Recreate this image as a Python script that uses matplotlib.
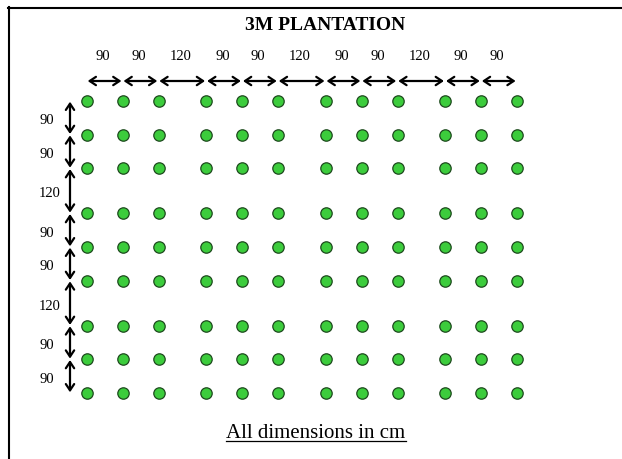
import numpy as np
import matplotlib
matplotlib.use("Agg")
import matplotlib.pyplot as plt
from matplotlib.patches import FancyArrowPatch
from matplotlib.lines import Line2D
import matplotlib.transforms as mtransforms

# spacing between plant columns / rows, in cm
col_gaps = [90, 90, 120, 90, 90, 120, 90, 90, 120, 90, 90]
row_gaps = [90, 90, 120, 90, 90, 120, 90, 90]
title = "3M PLANTATION"
note = "All dimensions in cm"

col_x = np.concatenate([[0], np.cumsum(col_gaps)])
row_y = np.concatenate([[0], np.cumsum(row_gaps)])

W, H = 622, 459
fig = plt.figure(figsize=(W / 100, H / 100), dpi=100)
ax = fig.add_axes([0, 0, 1, 1])
ax.axis("off")

# map cm onto the pixel grid of the drawing
x0_px, x1_px = 87, 517
y0_px, y1_px = 101, 393
sx = (x1_px - x0_px) / col_x[-1]
sy = (y1_px - y0_px) / row_y[-1]
ax.set_xlim(-x0_px / sx, (W - x0_px) / sx)
ax.set_ylim((H - y0_px) / sy, -y0_px / sy)

def fx(px):
    return px / W

def fy(py):
    return 1 - py / H

serif = "Liberation Serif"

# plants
gx, gy = np.meshgrid(col_x, row_y)
ax.plot(gx.ravel(), gy.ravel(), "o", ms=8.2, mfc="#3ccc3c", mec="#1e4a1e",
        mew=0.9, ls="none", zorder=3)

arrow_style = "<->,head_length=0.45,head_width=0.3"

# horizontal dimension arrows and labels
htrans = mtransforms.blended_transform_factory(ax.transData, ax.transAxes)
for i, gap in enumerate(col_gaps):
    a = FancyArrowPatch((col_x[i], fy(81)), (col_x[i + 1], fy(81)),
                        transform=htrans, arrowstyle=arrow_style,
                        mutation_scale=10, lw=1.6, color="black",
                        shrinkA=0.5, shrinkB=1)
    ax.add_patch(a)
    mid = (col_x[i] + col_x[i + 1]) / 2 - 2 / sx
    ax.text(mid, fy(57), str(gap), transform=htrans, ha="center",
            va="center", fontsize=10.5, family=serif)

# vertical dimension arrows and labels
vtrans = mtransforms.blended_transform_factory(ax.transAxes, ax.transData)
for i, gap in enumerate(row_gaps):
    a = FancyArrowPatch((fx(70), row_y[i]), (fx(70), row_y[i + 1]),
                        transform=vtrans, arrowstyle=arrow_style,
                        mutation_scale=10, lw=1.6, color="black",
                        shrinkA=0.5, shrinkB=0.5)
    ax.add_patch(a)
    mid = (row_y[i] + row_y[i + 1]) / 2 + 3 / sy
    ax.text(fx(39), mid, str(gap), transform=vtrans, ha="left",
            va="center", fontsize=10.5, family=serif)

# title and note
ax.text(fx(325), fy(30), title, transform=ax.transAxes, ha="center",
        va="baseline", fontsize=14, fontweight="bold", family=serif)
t = ax.text(fx(316), fy(438), note, transform=ax.transAxes, ha="center",
            va="baseline", fontsize=15, family=serif)

fig.canvas.draw()
bb = t.get_window_extent(fig.canvas.get_renderer())
uy = fy(441)
fig.add_artist(Line2D([bb.x0 / W, bb.x1 / W], [uy, uy], color="black", lw=0.9))

# frame lines (left and top)
fig.add_artist(Line2D([fx(8.5), fx(8.5)], [fy(7), 0], color="black", lw=1.5))
fig.add_artist(Line2D([fx(8), 1], [fy(7.5), fy(7.5)], color="black", lw=1.5))

fig.savefig("out.png", dpi=100, facecolor="white")
plt.close(fig)
